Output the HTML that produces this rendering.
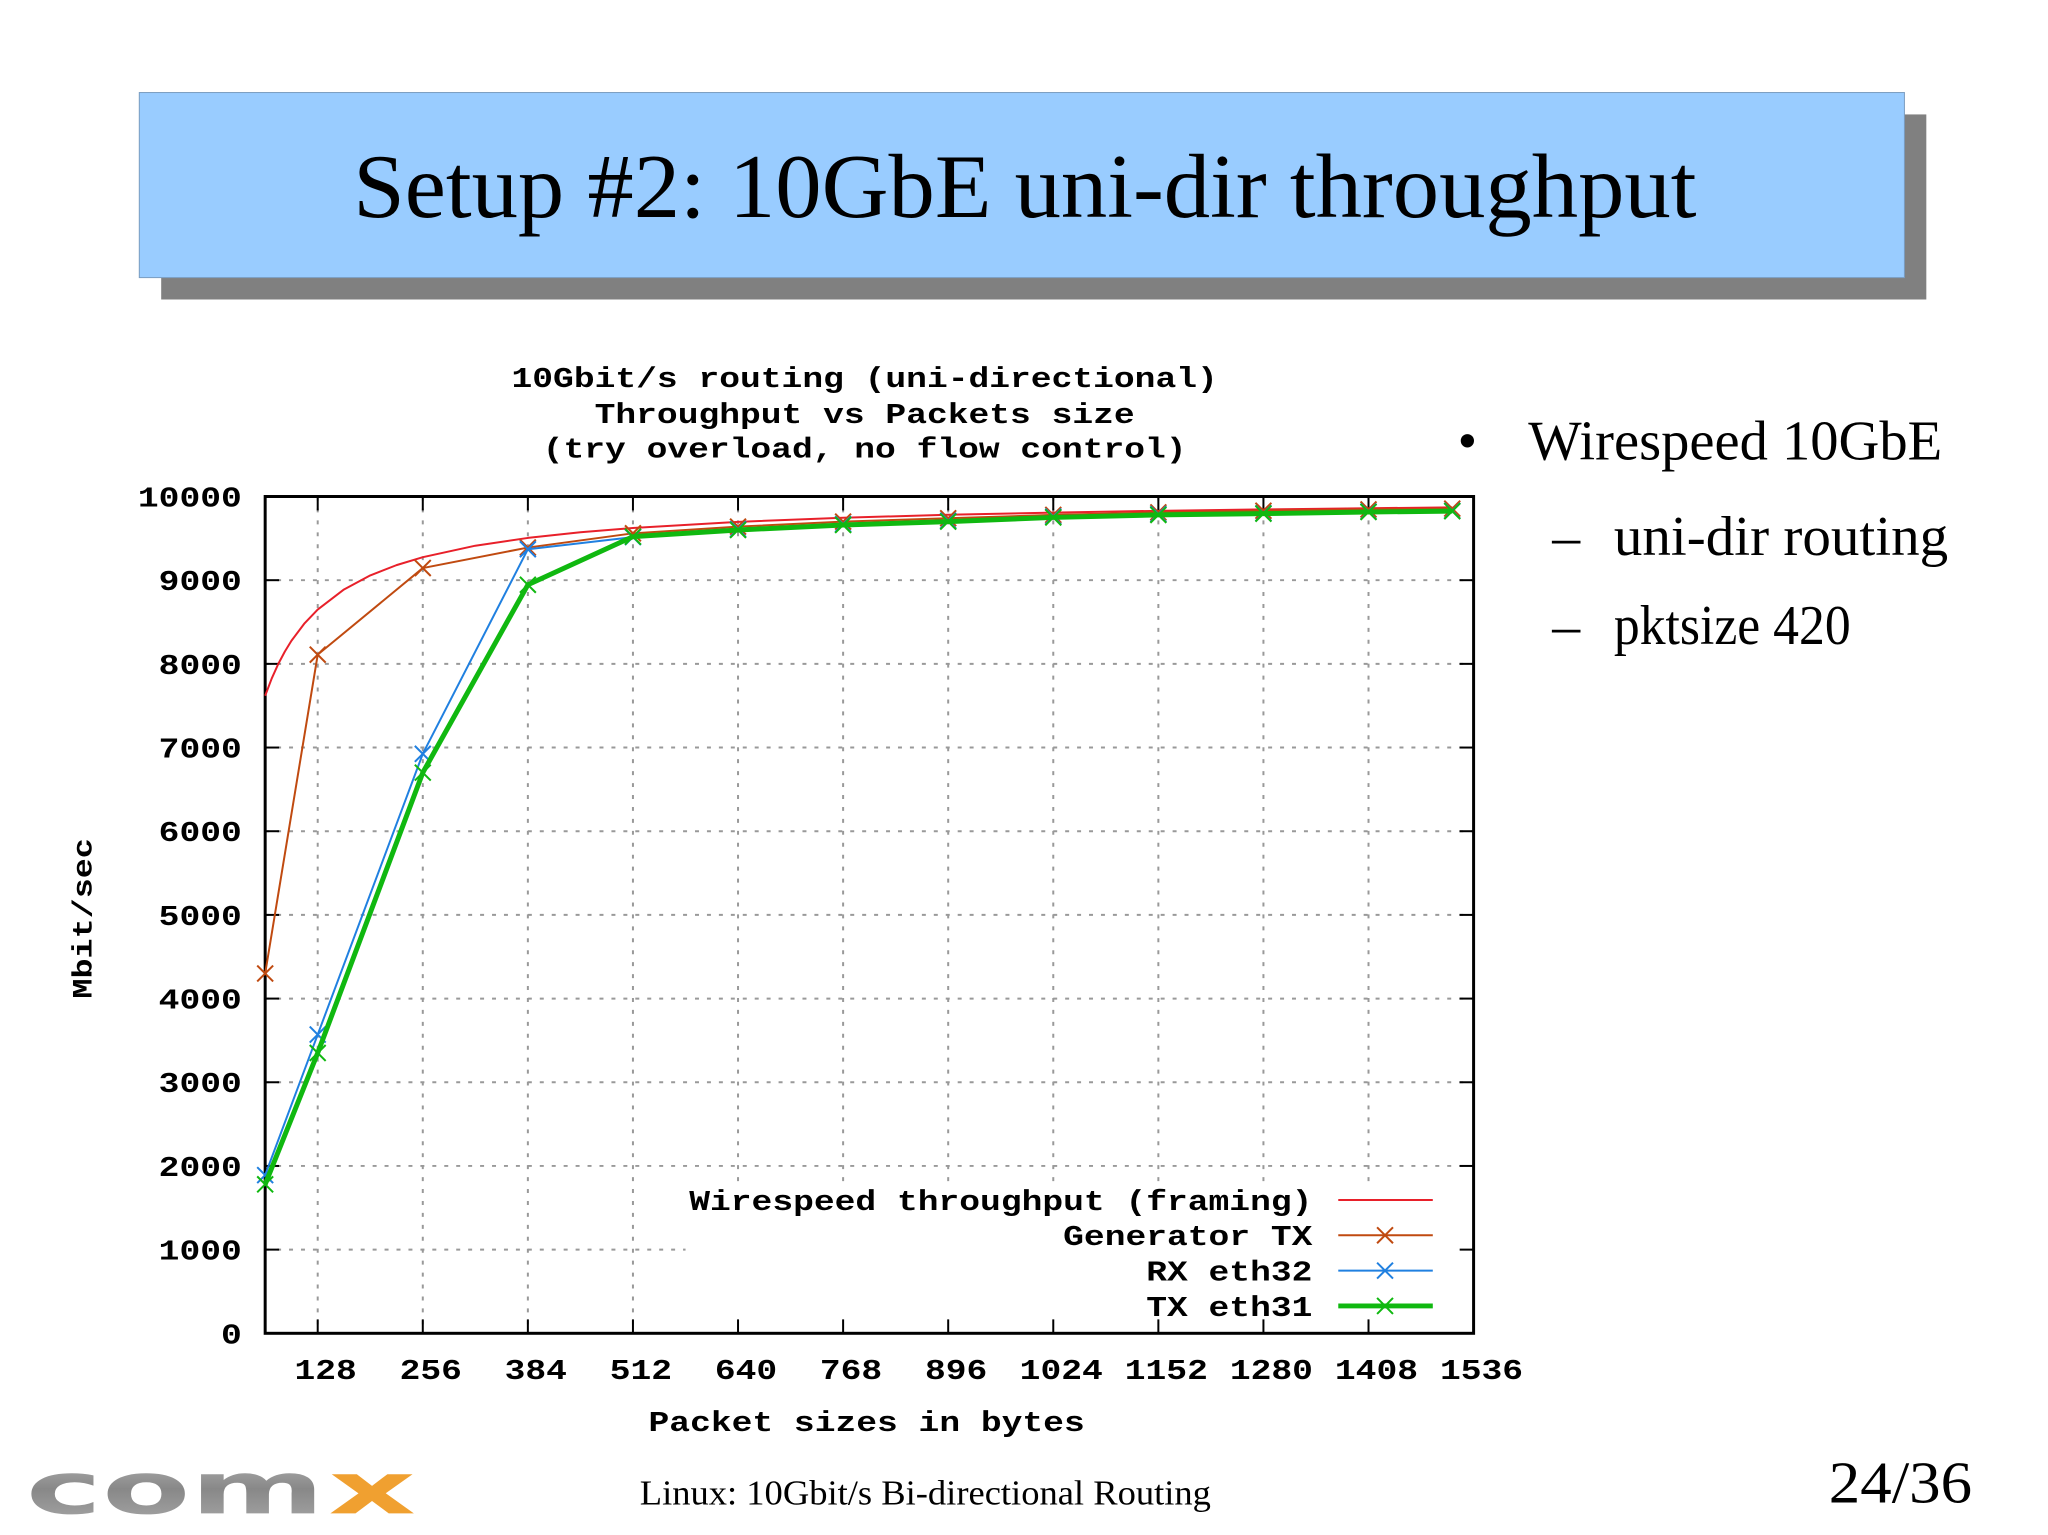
<!DOCTYPE html>
<html><head><meta charset="utf-8"><style>
html,body{margin:0;padding:0;background:#fff;width:2048px;height:1535px;overflow:hidden}
svg{display:block}
.mono{font-family:"Liberation Mono","DejaVu Sans Mono",monospace;font-weight:bold}
.serif{font-family:"Liberation Serif",serif}
</style></head><body>
<svg width="2048" height="1535" viewBox="0 0 2048 1535" xmlns="http://www.w3.org/2000/svg">
<g transform="scale(0.995)">
<rect x="162" y="115" width="1774" height="186" fill="#808080"/>
<rect x="140" y="93" width="1774" height="186" fill="#99ccff" stroke="#7a9cc0" stroke-width="1"/>
<text class="serif" x="1030" y="218" font-size="92" text-anchor="middle" textLength="1350" lengthAdjust="spacingAndGlyphs">Setup #2: 10GbE uni-dir throughput</text>

<g class="mono" font-size="29" text-anchor="middle">
<text class="wide" x="869" y="389">10Gbit/s routing (uni-directional)</text>
<text class="wide" x="869" y="425">Throughput vs Packets size</text>
<text class="wide" x="869" y="460">(try overload, no flow control)</text>
</g>
<g id="grid"></g>
<g id="axes"></g>
<g id="series"></g>
<text class="mono wide" font-size="28" transform="translate(92,923) rotate(-90)" text-anchor="middle">Mbit/sec</text>
<text class="mono wide" font-size="29" x="871" y="1438" text-anchor="middle">Packet sizes in bytes</text>
<g id="legend"></g>

<g class="serif" font-size="56">
<text x="1465" y="462">•</text>
<text x="1536" y="462" textLength="416" lengthAdjust="spacingAndGlyphs">Wirespeed 10GbE</text>
<text x="1560" y="558">–</text>
<text x="1622" y="558" textLength="336" lengthAdjust="spacingAndGlyphs">uni-dir routing</text>
<text x="1560" y="647">–</text>
<text x="1622" y="647" textLength="238" lengthAdjust="spacingAndGlyphs">pktsize 420</text>
</g>
<defs><linearGradient id="gg" x1="0" y1="0" x2="0" y2="1"><stop offset="0" stop-color="#bbb"/><stop offset="0.5" stop-color="#888"/><stop offset="1" stop-color="#aaa"/></linearGradient></defs>
<g font-family="'DejaVu Sans',sans-serif" font-weight="bold" font-size="72">
<text x="26" y="1521" fill="url(#gg)" textLength="300" lengthAdjust="spacingAndGlyphs">com</text>
<text x="330" y="1521" fill="#f0a030" textLength="88" lengthAdjust="spacingAndGlyphs">x</text>
</g>
<text class="serif" font-size="35" x="643" y="1512" textLength="574" lengthAdjust="spacingAndGlyphs">Linux: 10Gbit/s Bi-directional Routing</text>
<text class="serif" font-size="60" x="1838" y="1510" textLength="144" lengthAdjust="spacingAndGlyphs">24/36</text>
</g>
</svg>
<script>
const xTicks=[128,256,384,512,640,768,896,1024,1152,1280,1408,1536];
const yTicks=[0,1000,2000,3000,4000,5000,6000,7000,8000,9000,10000];
const wireX=[64,72,80,88,96,112,128,160,192,224,256,320,384,448,512,640,768,896,1024,1152,1280,1408,1510];
const wireY=[7619,7826,8000,8148,8276,8485,8649,8889,9057,9180,9275,9412,9505,9573,9624,9697,9746,9782,9808,9829,9846,9860,9870];
const measX=[64,128,256,384,512,640,768,896,1024,1152,1280,1408,1510];
const genY=[4300,8110,9145,9390,9560,9640,9700,9740,9780,9810,9830,9845,9855];
const rxY=[1890,3570,6925,9370,9515,9610,9670,9710,9760,9790,9800,9820,9830];
const txY=[1780,3350,6700,8945,9520,9600,9660,9700,9750,9780,9795,9815,9825];

const L=266.5,R=1481,T=499,B=1340,X0=64,X1=1536,Y0=0,Y1=10000;
const sx=v=>L+(v-X0)/(X1-X0)*(R-L);
const sy=v=>B-(v-Y0)/(Y1-Y0)*(B-T);
const NS="http://www.w3.org/2000/svg";
function mk(tag,attrs,parent){const e=document.createElementNS(NS,tag);for(const k in attrs)e.setAttribute(k,attrs[k]);parent.appendChild(e);return e;}
const grid=document.getElementById('grid'),axes=document.getElementById('axes'),series=document.getElementById('series'),legend=document.getElementById('legend');

xTicks.forEach(t=>{if(t<X1){const l=mk('line',{x1:sx(t),x2:sx(t),y1:T,y2:B,stroke:'#999','stroke-width':2,'stroke-dasharray':'4,8'},grid);

}
const tk=mk('line',{x1:sx(t),x2:sx(t),y1:B,y2:B-14,stroke:'#000','stroke-width':2},axes);


const tk2=mk('line',{x1:sx(t),x2:sx(t),y1:T,y2:T+14,stroke:'#000','stroke-width':2},axes);


const lb=mk('text',{x:sx(t)+8,y:1386,'text-anchor':'middle','font-size':29,class:'mono wide'},axes);lb.textContent=t;

});
yTicks.forEach(t=>{if(t>Y0&&t<Y1){const l=mk('line',{x1:L,x2:R,y1:sy(t),y2:sy(t),stroke:'#999','stroke-width':2,'stroke-dasharray':'4,8'},grid);

}
const tk=mk('line',{x1:L,x2:L+14,y1:sy(t),y2:sy(t),stroke:'#000','stroke-width':2},axes);


const tk2=mk('line',{x1:R,x2:R-14,y1:sy(t),y2:sy(t),stroke:'#000','stroke-width':2},axes);


const lb=mk('text',{x:243,y:sy(t)+10,'text-anchor':'end','font-size':29,class:'mono wide'},axes);lb.textContent=t;

});

function line(xs,ys,color,w,name,marks){
const p=mk('polyline',{points:xs.map((x,i)=>sx(x)+','+sy(ys[i])).join(' '),fill:'none',stroke:color,'stroke-width':w,'stroke-linejoin':'round'},series);


if(marks)xs.forEach((x,i)=>{const cx=sx(x),cy=sy(ys[i]);
const m=mk('path',{d:`M${cx-8},${cy-8}L${cx+8},${cy+8}M${cx-8},${cy+8}L${cx+8},${cy-8}`,stroke:color,'stroke-width':2},series);

});}
const bg=mk('rect',{x:689,y:1188,width:790,height:150,fill:'#fff'},grid);


line(wireX,wireY,'#e8202a',2,'wirespeed-line',false);
line(measX,genY,'#c04a10',2,'generator-tx-line',true);
line(measX,rxY,'#2080e0',2,'rx-eth32-line',true);
line(measX,txY,'#10b810',5,'tx-eth31-line',true);

mk('rect',{x:L,y:T,width:R-L,height:B-T,fill:'none',stroke:'#000','stroke-width':3},axes);
const leg=[['Wirespeed throughput (framing)','#e8202a',2,false],['Generator TX','#c04a10',2,true],['RX eth32','#2080e0',2,true],['TX eth31','#10b810',5,true]];
leg.forEach((e,i)=>{const y=1206+i*35.5;
const t=mk('text',{x:1319,y:y+10,'text-anchor':'end','font-size':29,class:'mono wide'},legend);t.textContent=e[0];


const l=mk('line',{x1:1345,x2:1440,y1:y,y2:y,stroke:e[1],'stroke-width':e[2]},legend);


if(e[3]){const m=mk('path',{d:`M1384,${y-8}L1400,${y+8}M1384,${y+8}L1400,${y-8}`,stroke:e[1],'stroke-width':2},legend);

}});
document.querySelectorAll('text.wide').forEach(t=>{const w=t.getComputedTextLength();t.setAttribute('textLength',(w*1.2).toFixed(1));t.setAttribute('lengthAdjust','spacingAndGlyphs');});
</script>
</body></html>
